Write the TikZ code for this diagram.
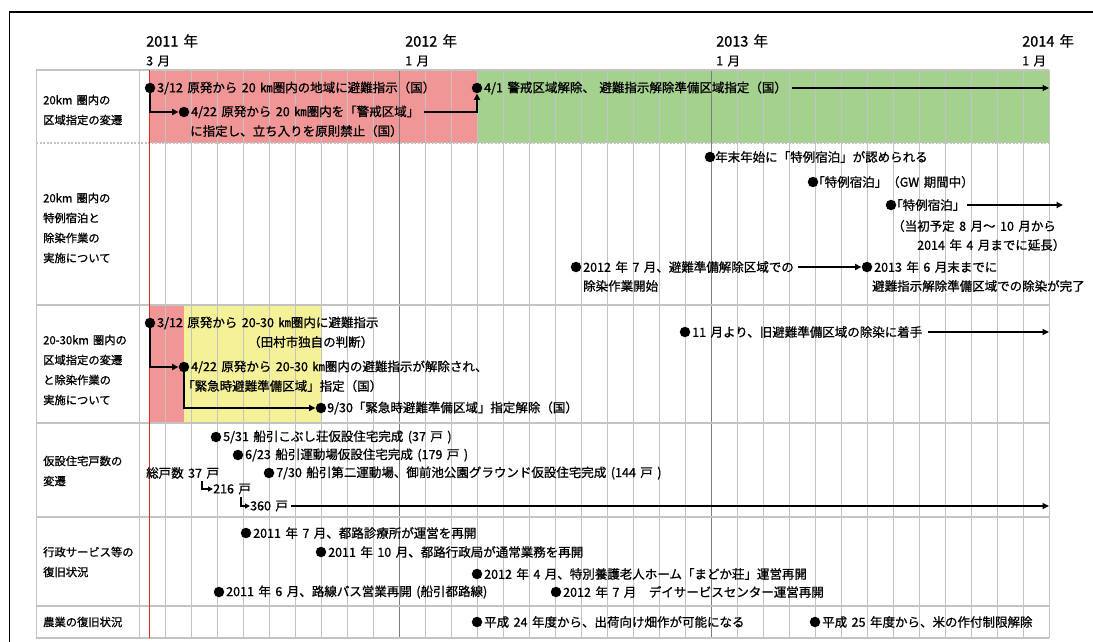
\documentclass[tikz,border=0pt]{standalone}
\usepackage{fontspec}
\setmainfont{Noto Sans CJK JP}[WordSpace=1.6,FakeBold=0.9]
\usetikzlibrary{arrows.meta}
\definecolor{zonepink}{RGB}{240,150,150}
\definecolor{zonegreen}{RGB}{164,209,141}
\definecolor{zoneyellow}{RGB}{245,241,152}
\definecolor{gridgray}{RGB}{195,195,195}
\definecolor{yeargray}{RGB}{125,125,125}
\definecolor{redline}{RGB}{228,40,40}
\begin{document}
\begin{tikzpicture}[x=1pt,y=-1pt,
  dot/.style={circle,fill=black,inner sep=0pt,minimum size=10.5pt},
  ev/.style={anchor=west,inner sep=0pt,font=\fontsize{12.5}{14}\selectfont},
  lab/.style={anchor=west,inner sep=0pt,align=left,font=\fontsize{11.3}{20}\selectfont},
  yr/.style={anchor=west,inner sep=0pt,font=\fontsize{14.5}{16}\selectfont},
  mo/.style={anchor=west,inner sep=0pt,font=\fontsize{12.5}{14}\selectfont},
  conn/.style={line width=2pt,-{Triangle[length=6.5pt,width=6pt]}},
  smallconn/.style={line width=1.5pt,-{Triangle[length=5pt,width=5pt]}},
  gridline/.style={gridgray,line width=0.8pt},
  rowline/.style={gridgray,line width=1.2pt}]
\useasboundingbox (0,0) rectangle (1093,642);
% frame
\draw[line width=1.4pt] (9.5,642) -- (9.5,12) -- (1093,12);
% fills
\fill[zonepink] (149,70) rectangle (477,143);
\fill[zonegreen] (477,70) rectangle (1049,143);
\fill[zonepink] (149,305) rectangle (184,423);
\fill[zoneyellow] (184,305) rectangle (321,423);
% month grid
\foreach \k in {0,...,35} {\draw[gridline] ({139+26*\k},70) -- ({139+26*\k},638);}
\draw[yeargray,line width=0.9pt] (399,70) -- (399,638);
\draw[yeargray,line width=0.9pt] (711,70) -- (711,638);
% rows
\draw[gridline] (36,70) -- (36,638);
\draw[rowline] (36,70) -- (1049,70);
\draw[rowline,dash pattern=on 2pt off 1.5pt] (36,143) -- (1049,143);
\draw[rowline] (36,305) -- (1049,305);
\draw[rowline] (36,423) -- (1049,423);
\draw[rowline] (36,517) -- (1049,517);
\draw[rowline] (36,606) -- (1049,606);
\draw[rowline] (36,638) -- (1049,638);
\draw[redline,line width=0.8pt] (149,70) -- (149,638);
\coordinate (R) at (1049,0);
\coordinate (R2) at (1063,0);
% header
\node[yr] (y11) at (146,41) {2011 年};
\node[mo] (m11) at (146,61) {3 月};
\node[yr] (y12) at (405,41) {2012 年};
\node[mo] (m12) at (405,61) {1 月};
\node[yr] (y13) at (716,41) {2013 年};
\node[mo] (m13) at (716,61) {1 月};
\node[yr] (y14) at (1022,41) {2014 年};
\node[mo] (m14) at (1022,61) {1 月};
% labels
\node[lab] (l1) at (43,110) {20km 圏内の\\区域指定の変遷};
\node[lab] (l2) at (43,228) {20km 圏内の\\特例宿泊と\\除染作業の\\実施について};
\node[lab] (l3) at (43,370) {20-30km 圏内の\\区域指定の変遷\\と除染作業の\\実施について};
\node[lab] (l4) at (43,471) {仮設住宅戸数の\\変遷};
\node[lab] (l5) at (43,562) {行政サービス等の\\復旧状況};
\node[lab] (l6) at (43,622) {農業の復旧状況};
% row 1
\node[dot] (a1) at (150,88) {};
\node[ev] (a1t) at (157,88) {3/12 原発から 20 ㎞圏内の地域に避難指示（国）};
\node[dot] (a2) at (184,112) {};
\node[ev] (a2t) at (191,112) {4/22 原発から 20 ㎞圏内を「警戒区域」};
\node[ev] (a2u) at (190,131) {に指定し、立ち入りを原則禁止（国）};
\node[dot] (a3) at (477,88) {};
\node[ev] (a3t) at (484,88) {4/1 警戒区域解除、 避難指示解除準備区域指定（国）};
\draw[conn] (a1.south) |- (a2.west);
\draw[conn] ([xshift=5pt]a2t.east) -| (a3.south);
\draw[conn] ([xshift=5pt]a3t.east) -- (a3t.east -| R);
% row 2
\node[dot] (b1) at (710,157) {};
\node[ev] (b1t) at (715,157) {年末年始に「特例宿泊」が認められる};
\node[dot] (b2) at (813,182) {};
\node[ev] (b2t) at (812,182) {「特例宿泊」（GW 期間中）};
\node[dot] (b3) at (891,205) {};
\node[ev] (b3t) at (890,205) {「特例宿泊」};
\node[ev] (b3u) at (892,226) {（当初予定 8 月～ 10 月から};
\node[ev] (b3v) at (917,245) {2014 年 4 月までに延長）};
\draw[conn] ([xshift=2pt]b3t.east) -- (b3t.east -| R2);
\node[dot] (b4) at (576,267) {};
\node[ev] (b4t) at (583,267) {2012 年 7 月、避難準備解除区域での};
\node[ev] (b4u) at (583,286) {除染作業開始};
\node[dot] (b5) at (867,267) {};
\node[ev] (b5t) at (874,267) {2013 年 6 月末までに};
\node[ev] (b5u) at (872,286) {避難指示解除準備区域での除染が完了};
\draw[conn] ([xshift=4pt]b4t.east) -- (b5.west);
% row 3
\node[dot] (c1) at (150,323) {};
\node[ev] (c1t) at (157,323) {3/12 原発から 20-30 ㎞圏内に避難指示};
\node[ev] (c1u) at (248,342) {（田村市独自の判断）};
\node[dot] (c2) at (184,367) {};
\node[ev] (c2t) at (191,367) {4/22 原発から 20-30 ㎞圏内の避難指示が解除され、};
\node[ev] (c2u) at (182,386) {「緊急時避難準備区域」指定（国）};
\node[dot] (c3) at (321,408) {};
\node[ev] (c3t) at (327,408) {9/30「緊急時避難準備区域」指定解除（国）};
\draw[conn] (c1.south) |- (c2.west);
\draw[conn] (c2.south) |- (c3.west);
\node[dot] (c4) at (685,332) {};
\node[ev] (c4t) at (692,332) {11 月より、旧避難準備区域の除染に着手};
\draw[conn] ([xshift=5pt]c4t.east) -- (c4t.east -| R);
% row 4
\node[dot] (d1) at (216,437) {};
\node[ev] (d1t) at (223,437) {5/31 船引こぶし荘仮設住宅完成 (37 戸 )};
\node[dot] (d2) at (238,455) {};
\node[ev] (d2t) at (245,455) {6/23 船引運動場仮設住宅完成 (179 戸 )};
\node[ev] (d0) at (146,473) {総戸数 37 戸};
\node[dot] (d3) at (269,473) {};
\node[ev] (d3t) at (276,473) {7/30 船引第二運動場、御前池公園グラウンド仮設住宅完成 (144 戸 )};
\node[ev] (d4) at (213,489) {216 戸};
\node[ev] (d5) at (250,506) {360 戸};
\coordinate (d4s) at (202,481);
\coordinate (d5s) at (241,497);
\draw[smallconn] (d4s) |- (d4.west);
\draw[smallconn] (d5s) |- (d5.west);
\draw[conn] ([xshift=3pt]d5.east) -- (d5.east -| R);
% row 5
\node[dot] (e1) at (246,533) {};
\node[ev] (e1t) at (253,533) {2011 年 7 月、都路診療所が運営を再開};
\node[dot] (e2) at (321,552) {};
\node[ev] (e2t) at (328,552) {2011 年 10 月、都路行政局が通常業務を再開};
\node[dot] (e3) at (477,574) {};
\node[ev] (e3t) at (484,574) {2012 年 4 月、特別養護老人ホーム「まどか荘」運営再開};
\node[dot] (e4) at (219,592) {};
\node[ev] (e4t) at (226,592) {2011 年 6 月、路線バス営業再開 (船引都路線)};
\node[dot] (e5) at (556,592) {};
\node[ev] (e5t) at (563,592) {2012 年 7 月　デイサービスセンター運営再開};
% row 6
\node[dot] (f1) at (477,622) {};
\node[ev] (f1t) at (484,622) {平成 24 年度から、出荷向け畑作が可能になる};
\node[dot] (f2) at (815,622) {};
\node[ev] (f2t) at (822,622) {平成 25 年度から、米の作付制限解除};
\end{tikzpicture}
\end{document}
